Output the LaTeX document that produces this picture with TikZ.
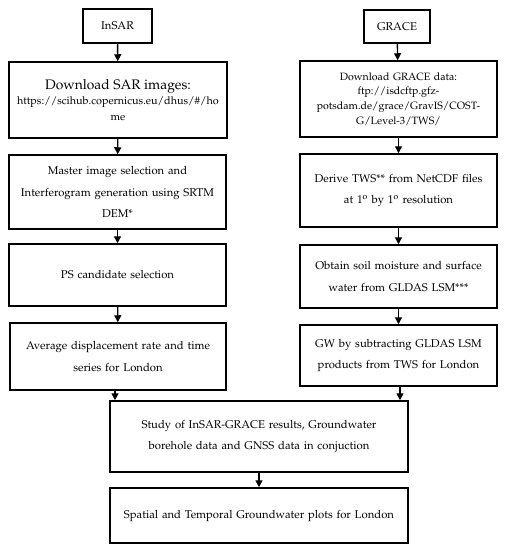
\documentclass[tikz,border=0pt]{standalone}
\usepackage[T1]{fontenc}
\usepackage{mathpazo}
\usetikzlibrary{arrows.meta}
\begin{document}
\begin{tikzpicture}[x=1pt,y=-1pt,
  box/.style={draw, line width=1.5pt, rectangle, align=center, inner sep=2pt,
    font=\fontsize{11.3}{21.5}\selectfont},
  arr/.style={line width=1.4pt, -{Triangle[length=7pt,width=7pt]}}]
\useasboundingbox (0,0) rectangle (505,550);
% left column
\node[box, minimum width=69pt, minimum height=34pt] (insar) at (117.5,26) {InSAR};
\node[box, minimum width=218pt, minimum height=76pt, text width=212pt,
  font=\fontsize{10.8}{15.5}\selectfont] (sar) at (118,100)
  {{\fontsize{13.8}{15.5}\selectfont Download SAR images:}\\https://scihub.copernicus.eu/dhus/\#/ho\\me};
\node[box, minimum width=217pt, minimum height=74pt, text width=212pt] (master) at (117.5,192)
  {Master image selection and\\Interferogram generation using SRTM\\DEM*};
\node[box, minimum width=217pt, minimum height=62pt, text width=212pt] (ps) at (117.5,275)
  {PS candidate selection};
\node[box, minimum width=216pt, minimum height=67pt, text width=212pt] (avg) at (118,356.5)
  {Average displacement rate and time\\series for London};
% right column
\node[box, minimum width=66pt, minimum height=33pt] (grace) at (397,26.5) {GRACE};
\node[box, minimum width=197pt, minimum height=76pt, text width=192pt,
  font=\fontsize{10.6}{14.7}\selectfont] (gdl) at (398.5,99)
  {Download GRACE data:\\ftp://isdcftp.gfz-\\potsdam.de/grace/GravIS/COST-\\G/Level-3/TWS/};
\node[box, minimum width=197pt, minimum height=73pt, text width=192pt] (derive) at (398.5,190.5)
  {Derive TWS** from NetCDF files\\at 1\textsuperscript{o} by 1\textsuperscript{o} resolution};
\node[box, minimum width=197pt, minimum height=63pt, text width=192pt] (obtain) at (398.5,276.5)
  {Obtain soil moisture and surface\\water from GLDAS LSM***};
\node[box, minimum width=197pt, minimum height=61pt, text width=192pt] (gw) at (398.5,355.5)
  {GW by subtracting GLDAS LSM\\products from TWS for London};
% bottom
\node[box, minimum width=298pt, minimum height=71pt, text width=292pt] (study) at (259,436.5)
  {Study of InSAR-GRACE results, Groundwater\\borehole data and GNSS data in conjuction};
\node[box, minimum width=298pt, minimum height=55pt, text width=292pt] (spatial) at (259,515.5)
  {Spatial and Temporal Groundwater plots for London};
% arrows
\draw[arr] (insar) -- (sar);
\draw[arr] (sar) -- (master);
\draw[arr] (master) -- (ps);
\draw[arr] (ps) -- (avg);
\draw[arr] (grace) -- (gdl);
\draw[arr] (gdl) -- (derive);
\draw[arr] (derive) -- (obtain);
\draw[arr] (obtain) -- (gw);
\draw[arr] ([xshift=-3pt]avg.south) -- ([xshift=-3pt]avg.south |- study.north);
\draw[arr] ([xshift=1.5pt]gw.south) -- ([xshift=1.5pt]gw.south |- study.north);
\draw[arr] (study) -- (spatial);
\end{tikzpicture}
\end{document}
